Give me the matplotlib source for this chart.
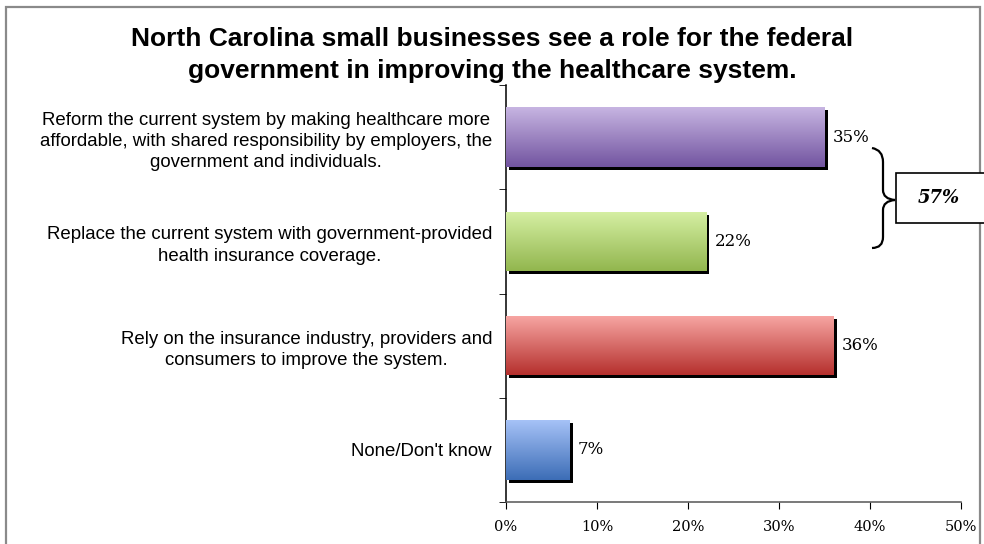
import numpy as np
import matplotlib
matplotlib.use("Agg")
import matplotlib.pyplot as plt
import matplotlib.transforms as mtransforms
from matplotlib.patches import Rectangle, PathPatch
from matplotlib.path import Path
from matplotlib.colors import LinearSegmentedColormap

# survey answers, top to bottom
categories = [
    "Reform the current system by making healthcare more\naffordable, with shared responsibility by employers, the\ngovernment and individuals.",
    "Replace the current system with government-provided\nhealth insurance coverage.",
    "Rely on the insurance industry, providers and\nconsumers to improve the system.",
    "None/Don't know",
]
values = [35, 22, 36, 7]
# gradient colours (top, bottom) per bar
grad_colors = [
    ("#c7b5e2", "#7254a0"),
    ("#d6f0a4", "#92b64e"),
    ("#f8a7a4", "#b5302d"),
    ("#a6c2f7", "#3c6db6"),
]
xticks = [0, 10, 20, 30, 40, 50]
group_total = "57%"
title = ("North Carolina small businesses see a role for the federal\n"
         "government in improving the healthcare system.")

W, H = 984, 544
fig = plt.figure(figsize=(W / 100, H / 100), dpi=100)
ax = fig.add_axes([506 / W, 1 - 502 / H, 455 / W, 417 / H])

ypos = np.arange(len(values))[::-1]
bh = 0.57

# black drop shadow, shifted a few pixels right/down
shadow_tr = mtransforms.offset_copy(ax.transData, fig=fig, x=3, y=-3, units="dots")
ax.barh(ypos, values, height=bh, color="black", transform=shadow_tr, zorder=1)

bars = ax.barh(ypos, values, height=bh, color="none", zorder=2)
grad = np.linspace(0, 1, 256).reshape(-1, 1)
for bar, (ctop, cbot) in zip(bars, grad_colors):
    cmap = LinearSegmentedColormap.from_list("g", [ctop, cbot])
    x0, y0 = bar.get_x(), bar.get_y()
    w, h = bar.get_width(), bar.get_height()
    im = ax.imshow(grad, cmap=cmap, aspect="auto", extent=[x0, x0 + w, y0, y0 + h],
                   origin="upper", zorder=3)
    im.set_clip_path(bar)

for y, v in zip(ypos, values):
    ax.annotate(f"{v}%", xy=(v, y), xytext=(6, 0), textcoords="offset points",
                va="center", ha="left", fontsize=12, family="DejaVu Serif")

ax.set_xlim(0, 50)
ax.set_ylim(-0.5, len(values) - 0.5)
ax.set_xticks(xticks)
ax.set_xticklabels([f"{t}%" for t in xticks], family="DejaVu Serif", fontsize=10.5)
ax.set_yticks(ypos)
ax.set_yticklabels(categories, family="Liberation Sans", fontsize=13.4,
                   linespacing=1.32, multialignment="center")
ax.tick_params(axis="y", which="major", length=0, pad=10)
ax.set_yticks(np.arange(-0.5, len(values), 1.0), minor=True)
ax.tick_params(axis="y", which="minor", length=5, direction="out")
ax.tick_params(axis="x", length=5, direction="out", pad=8)
for s in ["top", "right"]:
    ax.spines[s].set_visible(False)
for s in ["left", "bottom"]:
    ax.spines[s].set_linewidth(1.1)
ax.spines["bottom"].set_color("#555555")

fig.text(0.5, 1 - 55 / H, title, ha="center", va="center", fontsize=19,
         fontweight="bold", family="Liberation Sans", linespacing=1.42)

# chart frame
def fx(px):
    return px / W


def fy(py):
    return 1 - py / H


fig.patches.append(Rectangle((fx(6), fy(560)), fx(980) - fx(6), fy(7) - fy(560),
                             transform=fig.transFigure, fill=False,
                             edgecolor="#8a8a8a", linewidth=1.6))

# curly brace grouping the first two answers
pts = [(872, 148), (883, 150), (883, 162), (883, 190), (883, 199), (895, 200),
       (883, 201), (883, 210), (883, 237), (883, 248), (872, 248)]
codes = [Path.MOVETO, Path.CURVE3, Path.CURVE3, Path.LINETO, Path.CURVE3, Path.CURVE3,
         Path.CURVE3, Path.CURVE3, Path.LINETO, Path.CURVE3, Path.CURVE3]
brace = Path([(fx(x), fy(y)) for x, y in pts], codes)
fig.patches.append(PathPatch(brace, transform=fig.transFigure, fill=False,
                             edgecolor="black", linewidth=1.6))

fig.patches.append(Rectangle((fx(896), fy(223)), fx(990) - fx(896), fy(173) - fy(223),
                             transform=fig.transFigure, facecolor="white",
                             edgecolor="black", linewidth=1.2, zorder=5))
fig.text(fx(939), fy(198), group_total, ha="center", va="center", fontsize=13,
         fontweight="bold", fontstyle="italic", family="DejaVu Serif", zorder=6)

fig.savefig("out.png", dpi=100)
